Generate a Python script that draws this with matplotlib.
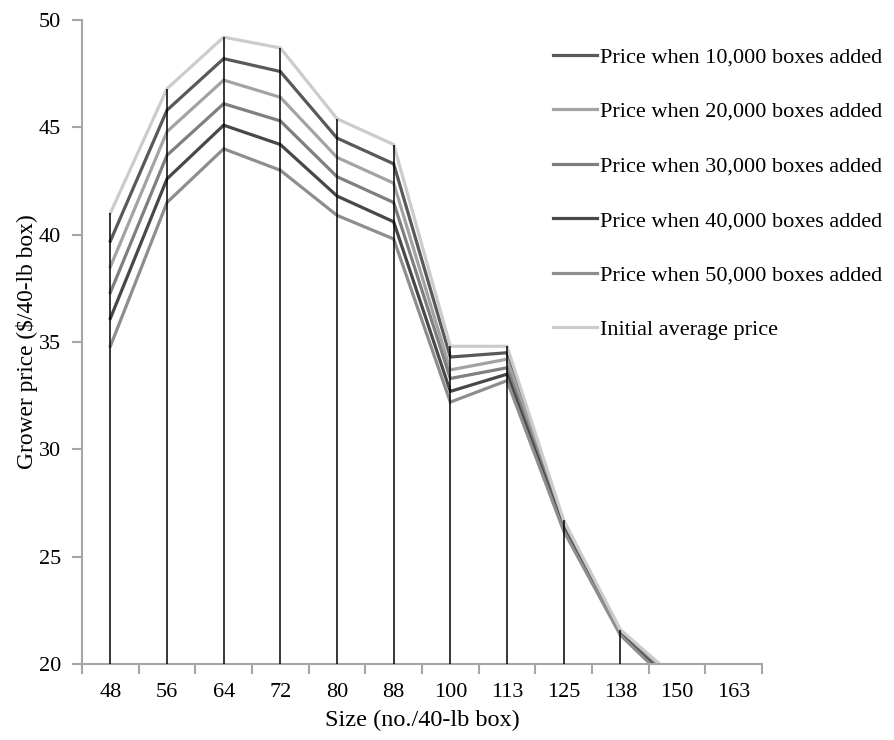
import matplotlib
matplotlib.use("Agg")
import matplotlib.pyplot as plt
import numpy as np

sizes = ["48", "56", "64", "72", "80", "88", "100", "113", "125", "138", "150", "163"]

price_10k = [39.7, 45.8, 48.2, 47.6, 44.5, 43.3, 34.3, 34.5, 26.6, 21.55, 19.2, 18.4]
price_20k = [38.5, 44.8, 47.2, 46.4, 43.6, 42.4, 33.7, 34.2, 26.5, 21.5, 19.1, 18.3]
price_30k = [37.3, 43.7, 46.1, 45.3, 42.7, 41.5, 33.3, 33.8, 26.4, 21.45, 19.0, 18.2]
price_40k = [36.1, 42.6, 45.1, 44.2, 41.8, 40.6, 32.7, 33.5, 26.3, 21.4, 18.9, 18.1]
price_50k = [34.8, 41.5, 44.0, 43.0, 40.9, 39.8, 32.2, 33.2, 26.2, 21.35, 18.8, 18.0]
price_initial = [41.0, 46.8, 49.2, 48.7, 45.4, 44.2, 34.8, 34.8, 26.7, 21.6, 19.3, 18.5]

labels = ["Price when 10,000 boxes added", "Price when 20,000 boxes added",
          "Price when 30,000 boxes added", "Price when 40,000 boxes added",
          "Price when 50,000 boxes added", "Initial average price"]
series = [price_10k, price_20k, price_30k, price_40k, price_50k, price_initial]
colors = ["#595959", "#a3a3a3", "#7f7f7f", "#484848", "#8e8e8e", "#cccccc"]

plt.rcParams['font.family'] = ['Liberation Serif', 'DejaVu Serif']

fig = plt.figure(figsize=(8.94, 7.40), dpi=100)
ax = fig.add_axes([82/894, 1-664/740, (762-82)/894, (664-20)/740])

x = np.arange(len(sizes))
handles = []
for vals, col, lab in zip(series, colors, labels):
    h, = ax.plot(x, vals, color=col, lw=2.3, label=lab, zorder=2, solid_joinstyle='miter')
    handles.append(h)

tops = np.max(np.array(series), axis=0)
ax.vlines(x, 20, tops, colors="black", lw=1.1, zorder=3)

ax.set_xlim(-0.5, len(sizes) - 0.5)
ax.set_ylim(20, 50)
ax.set_yticks([20, 25, 30, 35, 40, 45, 50])
ax.set_xticks(x)
ax.set_xticklabels(sizes)
ax.set_xticks(np.arange(-0.5, len(sizes), 1.0), minor=True)
ax.tick_params(axis='x', which='major', length=0, labelsize=16, pad=14)
ax.tick_params(axis='x', which='minor', length=7, width=1.5, color="#a6a6a6")
ax.tick_params(axis='y', which='major', length=7, width=1.5, color="#a6a6a6", labelsize=16, pad=8)

for s in ["top", "right"]:
    ax.spines[s].set_visible(False)
for s in ["left", "bottom"]:
    ax.spines[s].set_color("#a6a6a6")
    ax.spines[s].set_linewidth(1.5)

ax.set_xlabel("Size (no./40-lb box)", fontsize=17.5, labelpad=5)
ax.set_ylabel("Grower price ($/40-lb box)", fontsize=16.8, labelpad=1)

fig.legend(handles=handles, labels=labels, loc="upper left",
           bbox_to_anchor=(544/894, 1-38/740), frameon=False, fontsize=16,
           labelspacing=1.53, handlelength=2.0, handletextpad=0.12, borderaxespad=0)

fig.savefig("out.png", dpi=100)
